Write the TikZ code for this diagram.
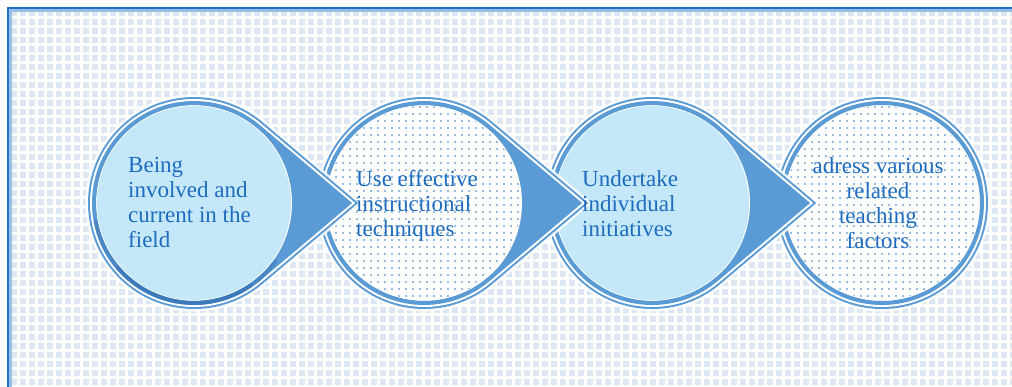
\documentclass[tikz,border=0pt]{standalone}
\usepackage{fontspec}
\setmainfont{Liberation Serif}
\usetikzlibrary{patterns.meta}
\definecolor{ring}{RGB}{91,155,213}
\definecolor{ringdark}{RGB}{40,100,170}
\definecolor{txt}{RGB}{30,108,190}
\definecolor{bgblue}{RGB}{221,231,243}
\definecolor{framedark}{RGB}{30,115,200}
\definecolor{framelight}{RGB}{150,190,230}
\definecolor{cyanfill}{RGB}{196,232,250}
\definecolor{dotblue}{RGB}{50,120,200}
\tikzset{
  halo/.style={draw=white, line width=17pt, opacity=0.85, line join=miter},
  outerline/.style={draw=ring, line width=12pt, line join=miter},
  gapline/.style={draw=white, line width=8pt, line join=miter},
  band/.style={draw=ring, line width=4pt, line join=miter},
  tipfill/.style={fill=ring},
  densedots/.style={fill=cyanfill},
  sparsedots/.style={pattern={Dots[distance=7pt, radius=0.8pt]}, pattern color=dotblue},
  steptext/.style={font=\fontsize{23}{25}\selectfont, text=txt, inner sep=0pt},
  shadowarc/.style={draw=ringdark, line width=4pt, opacity=0.35},
}
\newcommand\tearlayer[2]{\path[#2] (#1,203) ++(49.8:100) arc[start angle=49.8,end angle=310.2,radius=100] -- ({#1+155},203) -- cycle;}
\newcommand\teardrop[2]{%
  \tearlayer{#1}{halo}\tearlayer{#1}{outerline}\tearlayer{#1}{gapline}\tearlayer{#1}{tipfill}%
  \fill[white] (#1,203) circle[radius=98];
  \fill[#2] (#1,203) circle[radius=97];
  \tearlayer{#1}{band}}
\newcommand\circlayer[2]{\path[#2] (#1,203) circle[radius=100];}
\begin{document}
\begin{tikzpicture}[x=1pt,y=-1pt]
\useasboundingbox (0,0) rectangle (1012,387);
\fill[white] (0,0) rectangle (1012,387);
\fill[bgblue] (8,8) rectangle (1012,387);
\fill[pattern={Hatch[distance=9pt, line width=3pt]}, pattern color=white] (8,8) rectangle (1012,387);
\draw[framelight, line width=2.5pt] (10.5,387) -- (10.5,10.5) -- (1012,10.5);
\draw[framedark, line width=1.5pt] (8,387) -- (8,8) -- (1012,8);
% circle 4
\circlayer{882}{halo}\circlayer{882}{outerline}\circlayer{882}{gapline}
\fill[white] (882,203) circle[radius=98];
\fill[sparsedots] (882,203) circle[radius=97];
\circlayer{882}{band}
% teardrops 3, 2, 1
\teardrop{652}{densedots}
\teardrop{424}{sparsedots}
\teardrop{194}{densedots}
\draw[shadowarc] (194,203) ++(35:100) arc[start angle=35,end angle=170,radius=100];
\draw[shadowarc] (194,203) ++(55:100) arc[start angle=55,end angle=140,radius=100];
\node[steptext, align=left, anchor=north west] (t1) at (128,157) {Being\\involved and\\current in the\\field};
\node[steptext, align=left, anchor=north west] (t2) at (356,170) {Use effective\\instructional\\techniques};
\node[steptext, align=left, anchor=north west] (t3) at (582,170) {Undertake\\individual\\initiatives};
\node[steptext, align=center, anchor=north] (t4) at (878,157) {adress various\\related\\teaching\\factors};
\end{tikzpicture}
\end{document}
